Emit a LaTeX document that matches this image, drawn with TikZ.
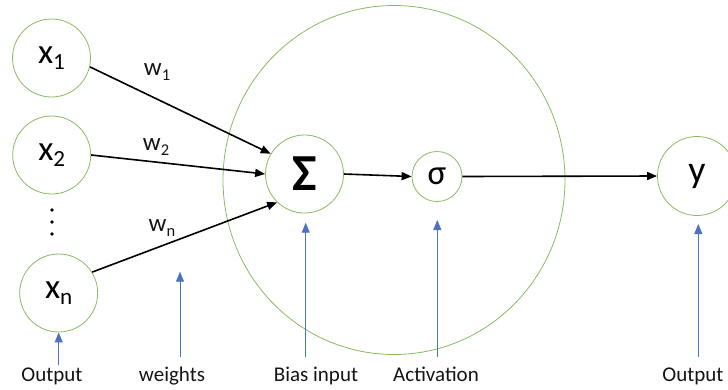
\documentclass[tikz,border=0pt]{standalone}
\usepackage{fontspec}
\setmainfont{Carlito}
\usetikzlibrary{arrows.meta}
\definecolor{cgreen}{RGB}{137,186,98}
\definecolor{cblue}{RGB}{76,114,196}
\definecolor{ctext}{RGB}{20,20,20}
\newcommand\lowsub[1]{\raisebox{-0.35ex}{\scalebox{0.66}{#1}}}
\tikzset{
  neuron/.style={circle, draw=cgreen, line width=0.8pt, inner sep=0pt, text=black, font=\fontsize{35}{37}\selectfont},
  wire/.style={line width=1.6pt, -{Triangle[length=10pt,width=8pt]}},
  pointer/.style={draw=cblue, line width=0.9pt, -{Triangle[length=10pt,width=8pt]}},
  caption/.style={text=ctext, font=\fontsize{21}{23}\selectfont, inner sep=0pt, anchor=base},
  wlabel/.style={text=ctext, font=\fontsize{25}{27}\selectfont, inner sep=0pt},
  dotmark/.style={circle, fill=black, inner sep=0pt, minimum size=3.6pt}
}
\begin{document}
\begin{tikzpicture}[x=1pt,y=-1pt]
\useasboundingbox (0,0) rectangle (728,389);
% big cell
\draw[cgreen, line width=0.8pt] (394,180) ellipse [x radius=171, y radius=174.5];
% nodes
\node[neuron, minimum size=78pt] (x1) at (51.5,58) {x\lowsub{1}};
\node[neuron, minimum size=78pt] (x2) at (51.7,155) {x\lowsub{2}};
\node[neuron, minimum size=78pt] (xn) at (58.7,293) {x\lowsub{n}};
\node[neuron, minimum size=78pt, font=\fontsize{52}{54}\selectfont\bfseries] (S) at (304.5,174) {Σ};
\node[neuron, minimum size=50pt] (sg) at (437,176.5) {σ};
\node[neuron, minimum size=79pt, font=\fontsize{38}{40}\selectfont] (y) at (697,176) {y};
% dots
\node[dotmark] (d1) at (52,210) {};
\node[dotmark] (d2) at (52,222) {};
\node[dotmark] (d3) at (52,234) {};
% connectors
\draw[wire] (x1.-13) -- (S.149);
\draw[wire] (x2.east) -- (S.180);
\draw[wire] (xn.32) -- (S.226);
\draw[wire] (S.east) -- (sg.west);
\draw[wire] (sg.east) -- (y.west);
% weight labels
\node[wlabel] (w1) at (157,72) {w\lowsub{1}};
\node[wlabel] (w2) at (156,147) {w\lowsub{2}};
\node[wlabel] (wn) at (162,228) {w\lowsub{n}};
% pointers
\coordinate (p1) at (58.7,365);
\coordinate (p2a) at (180,356.7);
\coordinate (p2b) at (180,271.7);
\coordinate (p3a) at (305.7,356.7);
\coordinate (p3b) at (305.7,222.7);
\coordinate (p4a) at (437.3,356.7);
\coordinate (p4b) at (437.3,220);
\coordinate (p5a) at (698.3,356.7);
\coordinate (p5b) at (698.3,224);
\draw[pointer] (p1) -- (xn.south);
\draw[pointer] (p2a) -- (p2b);
\draw[pointer] (p3a) -- (p3b);
\draw[pointer] (p4a) -- (p4b);
\draw[pointer] (p5a) -- (p5b);
% captions
\node[caption] (c1) at (52,381) {Output};
\node[caption] (c2) at (172,381) {weights};
\node[caption] (c3) at (316,381) {Bias input};
\node[caption] (c4) at (436,381) {Activation};
\node[caption] (c5) at (693,381) {Output};
\end{tikzpicture}
\end{document}
